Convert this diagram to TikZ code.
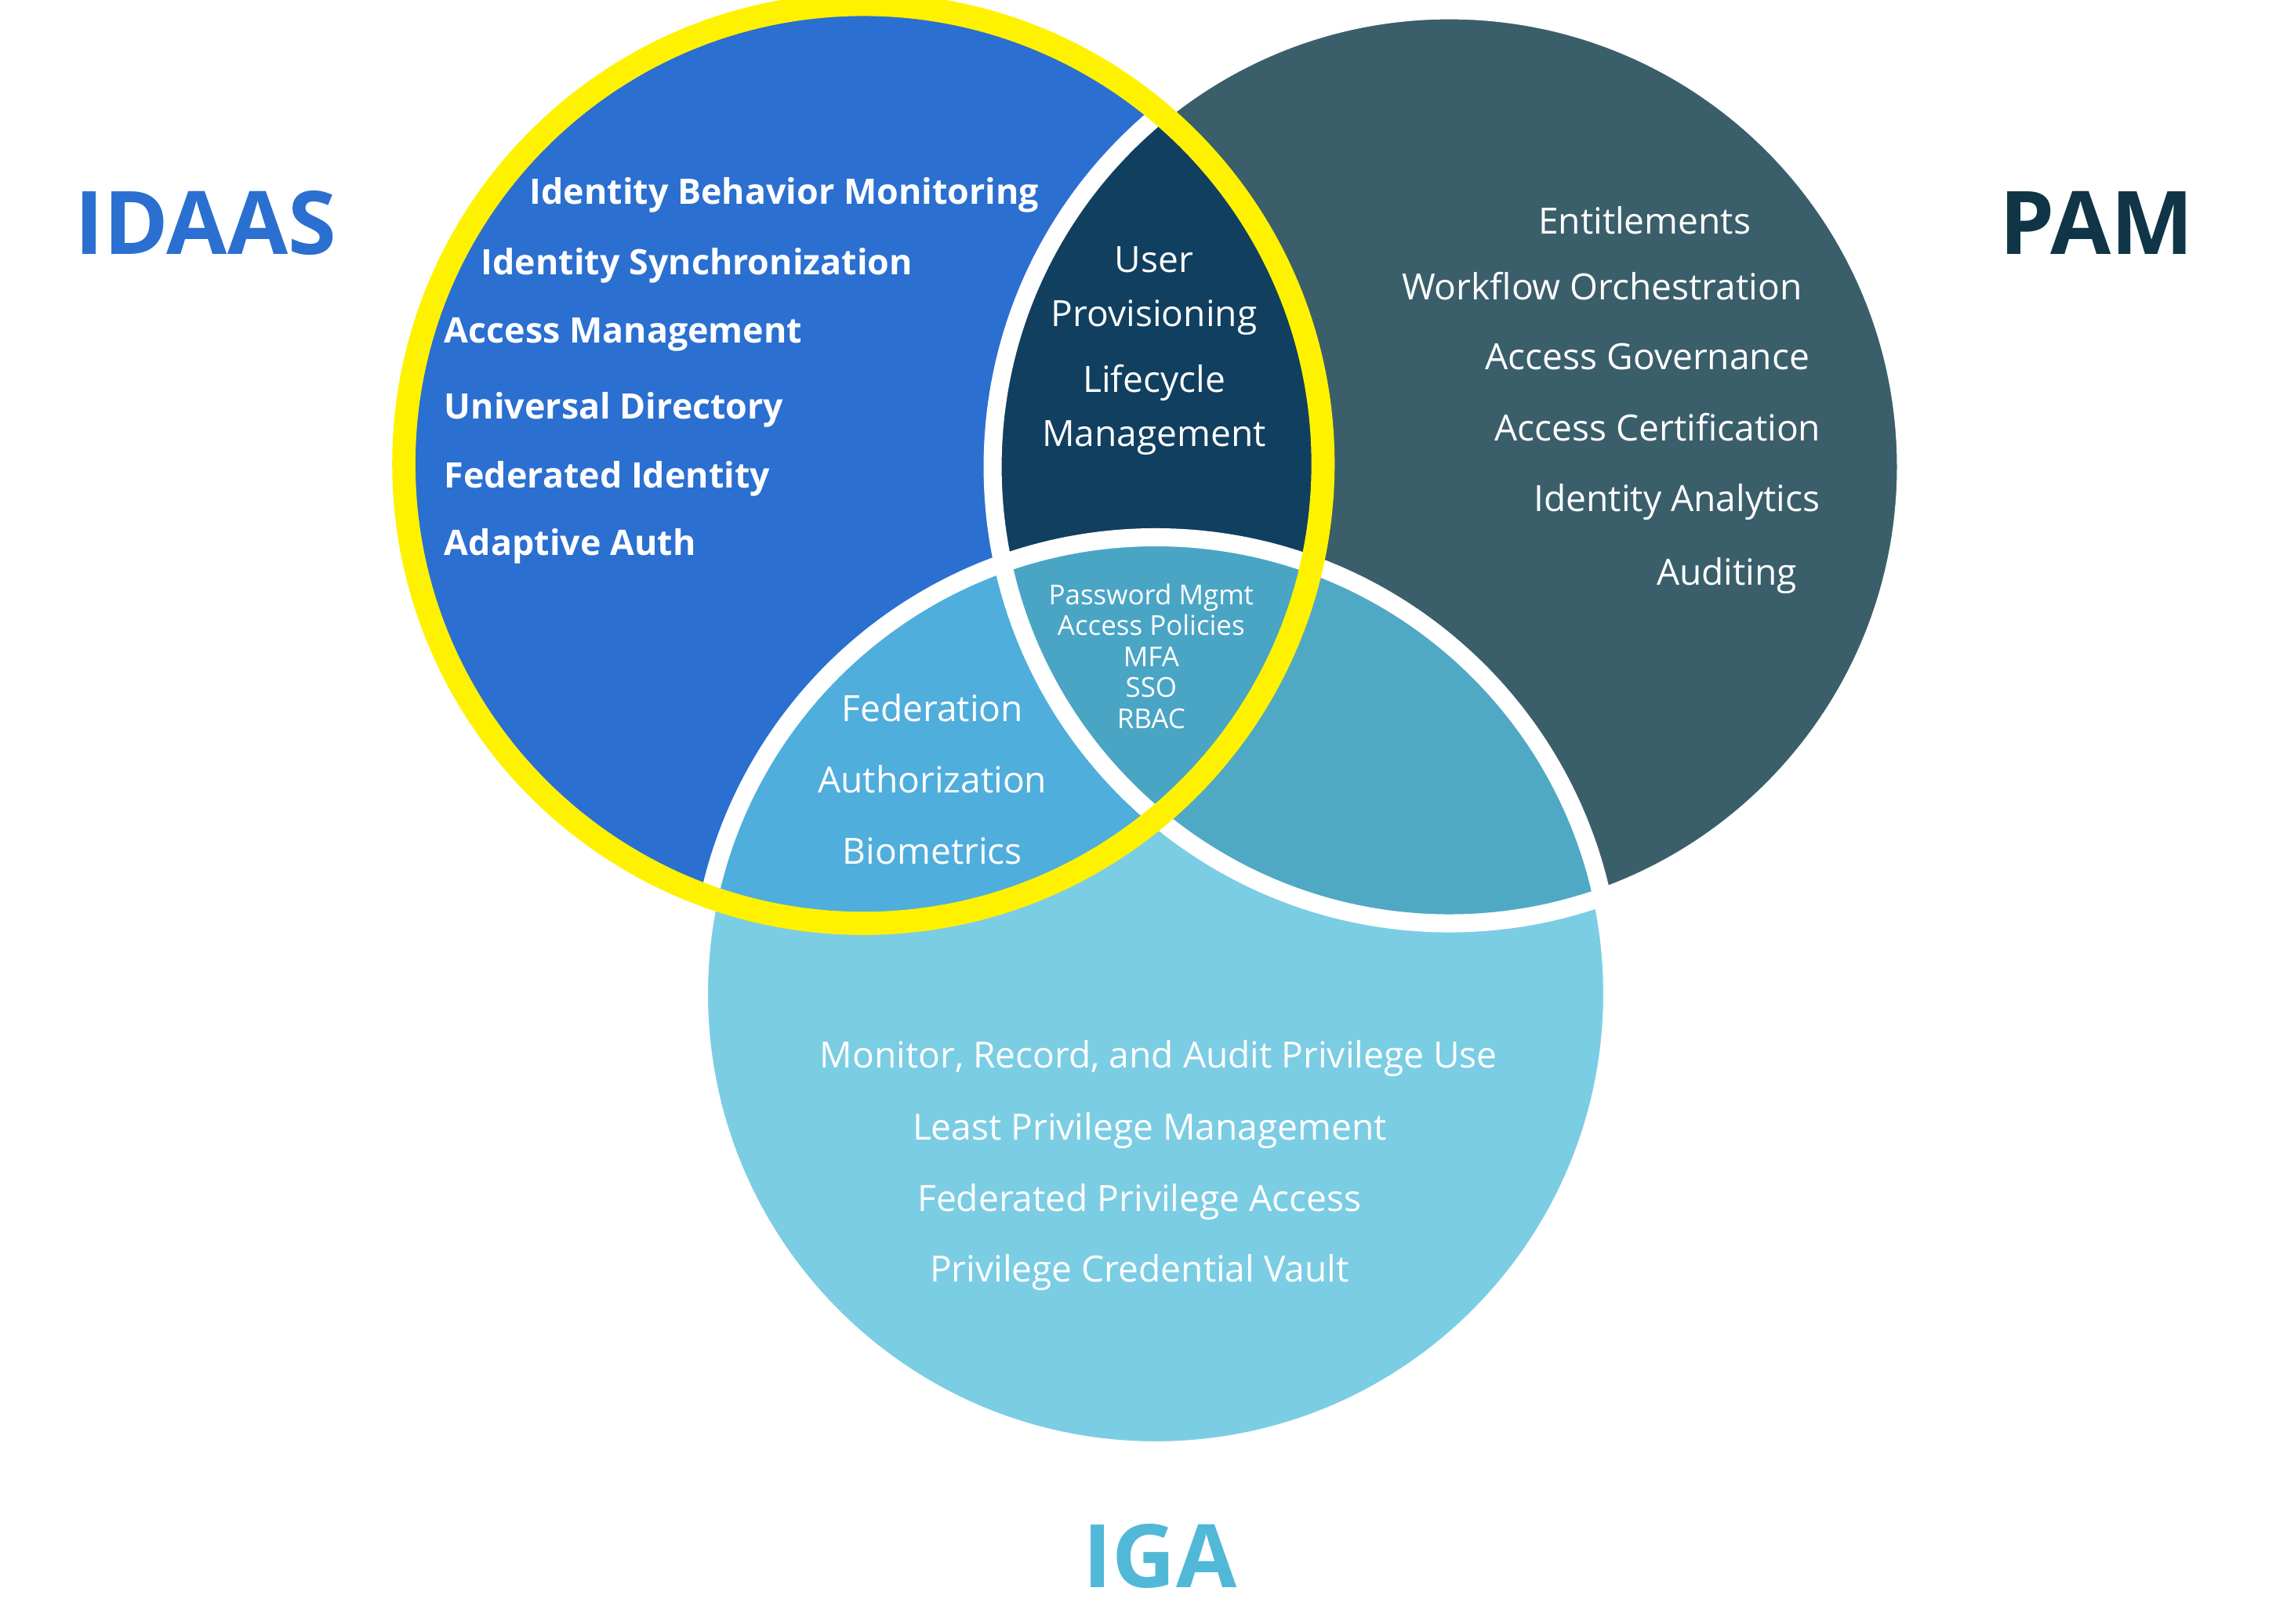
\documentclass[tikz,border=0pt]{standalone}
\usepackage{fontspec}
\setmainfont{Open Sans}
\definecolor{idaasc}{HTML}{2B6FD0}
\definecolor{pamc}{HTML}{3A5F6B}
\definecolor{igac}{HTML}{7BCDE4}
\definecolor{ipc}{HTML}{113F5F}
\definecolor{iic}{HTML}{4FAEDC}
\definecolor{pic}{HTML}{50A9C4}
\definecolor{allc}{HTML}{4AA5C5}
\definecolor{pamtc}{HTML}{0F3547}
\definecolor{igatc}{HTML}{52B8D8}
\begin{document}
\begin{tikzpicture}[x=0.01cm, y=-0.01cm,
  item/.style={text=white, inner sep=0pt, font=\fontsize{7}{8.5}\selectfont},
  bitem/.style={item, anchor=west, font=\fontsize{6.8}{8}\selectfont\bfseries},
  small/.style={item, font=\fontsize{5.3}{6}\selectfont},
  title/.style={inner sep=0pt, font=\fontsize{17}{20}\selectfont\bfseries}]
\useasboundingbox (0,0) rectangle (1550,1106);
\def\cidaas{(588,316) circle (313)}
\def\cpam{(987,318) circle (311)}
\def\ciga{(787,677) circle (311)}
% fills
\fill[idaasc] \cidaas;
\fill[pamc] \cpam;
\fill[igac] \ciga;
\begin{scope}\clip \cidaas; \fill[ipc] \cpam; \fill[iic] \ciga; \end{scope}
\begin{scope}\clip \cpam; \fill[pic] \ciga; \end{scope}
\begin{scope}\clip \cidaas; \clip \cpam; \fill[allc] \ciga; \end{scope}
% outlines
\draw[white, line width=3.5] \cpam;
\draw[white, line width=3.5] \ciga;
\draw[yellow, line width=4.5] \cidaas;
% titles
\node[title, text=idaasc] (tidaas) at (140,152) {IDAAS};
\node[title, text=pamtc] (tpam) at (1428,152) {PAM};
\node[title, text=igatc] (tiga) at (790,1060) {IGA};
% IDAAS
\node[bitem] (ibm) at (360,133) {Identity Behavior Monitoring};
\node[bitem] (isy) at (327,181) {Identity Synchronization};
\node[bitem] (am) at (302,228) {Access Management};
\node[bitem] (ud) at (302,279) {Universal Directory};
\node[bitem] (fi) at (302,326) {Federated Identity};
\node[bitem] (aa) at (302,372) {Adaptive Auth};
% IDAAS & PAM
\node[item, align=center] (up) at (786,198) {User\\[2pt]Provisioning};
\node[item, align=center] (lm) at (786,279) {Lifecycle\\[2pt]Management};
% centre
\node[small, align=center] (ctr) at (784,447) {Password Mgmt\\Access Policies\\MFA\\SSO\\RBAC};
% IDAAS & IGA
\node[item] (fed) at (635,482) {Federation};
\node[item] (auth) at (635,531) {Authorization};
\node[item] (bio) at (635,580) {Biometrics};
% PAM
\node[item] (ent) at (1120,150) {Entitlements};
\node[item] (wo) at (1091,195) {Workflow Orchestration};
\node[item] (ag) at (1122,243) {Access Governance};
\node[item] (ac) at (1129,291) {Access Certification};
\node[item] (ia) at (1142,342) {Identity Analytics};
\node[item] (aud) at (1176,392) {Auditing};
% IGA
\node[item] (mra) at (789,721) {Monitor, Record, and Audit Privilege Use};
\node[item] (lpm) at (783,770) {Least Privilege Management};
\node[item] (fpa) at (776,819) {Federated Privilege Access};
\node[item] (pcv) at (776,867) {Privilege Credential Vault};
\end{tikzpicture}
\end{document}
